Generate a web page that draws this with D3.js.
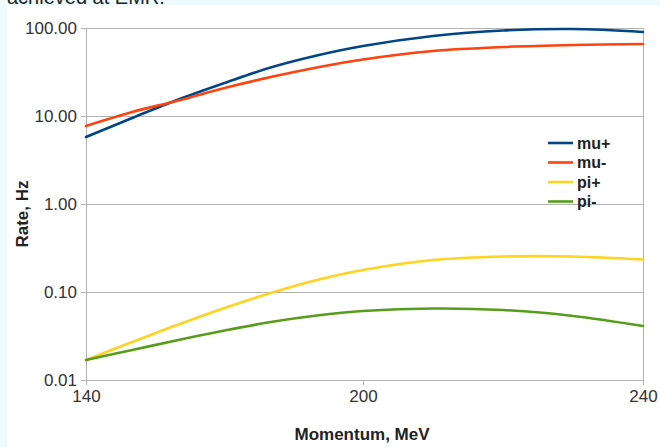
<!DOCTYPE html>
<html>
<head>
<meta charset="utf-8">
<script src="https://cdn.jsdelivr.net/npm/d3@7"></script>
<style>
  html, body { margin: 0; padding: 0; background: #eefbfe; }
  svg { display: block; font-family: "Liberation Sans", Arial, sans-serif; }
</style>
</head>
<body>
<svg id="chart" width="660" height="447"></svg>
<script>
// Momentum samples (MeV) and simulated rates (Hz) for each particle type
const momentum = [140, 150, 160, 170, 180, 190, 200, 210, 220, 230, 240];
const muPlus  = [5.77, 9.49, 15.4, 23.7, 35.6, 48.7, 62.4, 81.1, 93.7, 97.4, 90.1];
const muMinus = [7.70, 11.1, 15.0, 20.8, 27.7, 35.6, 43.9, 54.8, 60.8, 64.1, 65.8];
const piPlus  = [0.0169, 0.0270, 0.0427, 0.0658, 0.0975, 0.137, 0.178, 0.231, 0.253, 0.253, 0.234];
const piMinus = [0.0169, 0.0219, 0.0285, 0.0365, 0.0456, 0.0541, 0.0608, 0.0649, 0.0624, 0.0534, 0.0411];

const seriesNames = ["mu+", "mu-", "pi+", "pi-"];
const seriesValues = [muPlus, muMinus, piPlus, piMinus];
const seriesColors = ["#004586", "#ff420e", "#ffd320", "#579d1c"];

const xTickValues = [140, 200, 240];
const yTickValues = [0.01, 0.1, 1, 10, 100];
const yTickLabels = ["0.01", "0.10", "1.00", "10.00", "100.00"];

const svg = d3.select("#chart");

// White sheet behind the chart, with the caption line running off the top
svg.append("rect").attr("x", 7).attr("y", 5).attr("width", 653).attr("height", 442).attr("fill", "#ffffff");
svg.append("text").attr("x", 7).attr("y", 4).attr("font-size", 20).attr("fill", "#222")
  .text("achieved at EMR.");

const plotLeft = 86, plotRight = 643, plotTop = 28, plotBottom = 380;

// Category-like momentum axis: 140..200 and 200..240 take equal widths
const x = d3.scaleLinear().domain([140, 200, 240]).range([plotLeft, 363, plotRight]);
const y = d3.scaleLog().domain([0.01, 100]).range([plotBottom, plotTop]);

const gridColor = "#b3b3b3";

// Horizontal grid lines
svg.append("g").selectAll("line").data(yTickValues.slice(1)).join("line")
  .attr("x1", plotLeft).attr("x2", plotRight)
  .attr("y1", d => y(d)).attr("y2", d => y(d))
  .attr("stroke", gridColor).attr("stroke-width", 1).attr("shape-rendering", "crispEdges");

// Right frame edge
svg.append("line").attr("x1", plotRight).attr("x2", plotRight).attr("y1", plotTop).attr("y2", plotBottom)
  .attr("stroke", gridColor).attr("shape-rendering", "crispEdges");

// Y axis
const yAxis = d3.axisLeft(y).tickValues(yTickValues)
  .tickFormat((d, i) => yTickLabels[i]).tickSize(5).tickPadding(4);
const gy = svg.append("g").attr("transform", `translate(${plotLeft},0)`).call(yAxis);
gy.select(".domain").attr("stroke", gridColor).attr("shape-rendering", "crispEdges");
gy.selectAll(".tick line").attr("stroke", gridColor).attr("shape-rendering", "crispEdges");
gy.selectAll(".tick text").attr("font-size", 17).attr("fill", "#333")
  .attr("font-family", "Liberation Sans, Arial, sans-serif");

// X axis
const xAxis = d3.axisBottom(x).tickValues(xTickValues).tickFormat(d3.format("d"))
  .tickSize(5).tickPadding(5);
const gx = svg.append("g").attr("transform", `translate(0,${plotBottom})`).call(xAxis);
gx.select(".domain").attr("stroke", gridColor).attr("shape-rendering", "crispEdges");
gx.selectAll(".tick line").attr("stroke", gridColor).attr("shape-rendering", "crispEdges");
gx.selectAll(".tick text").attr("font-size", 17).attr("fill", "#333")
  .attr("font-family", "Liberation Sans, Arial, sans-serif");

// Axis titles
svg.append("text").attr("x", 362).attr("y", 440).attr("text-anchor", "middle")
  .attr("font-size", 17).attr("font-weight", "bold").attr("fill", "#222")
  .text("Momentum, MeV");
svg.append("text").attr("transform", "translate(28,214) rotate(-90)").attr("text-anchor", "middle")
  .attr("font-size", 17).attr("font-weight", "bold").attr("fill", "#222")
  .text("Rate, Hz");

// Series curves
const line = d3.line().x((d, i) => x(momentum[i])).y(d => y(d)).curve(d3.curveCatmullRom.alpha(0.5));
svg.append("g").selectAll("path").data(seriesValues).join("path")
  .attr("d", d => line(d))
  .attr("fill", "none")
  .attr("stroke", (d, i) => seriesColors[i])
  .attr("stroke-width", 2.6)
  .attr("stroke-linecap", "round");

// Legend
const legend = svg.append("g").attr("transform", "translate(548,143)");
const rows = legend.selectAll("g").data(seriesNames).join("g")
  .attr("transform", (d, i) => `translate(0,${i * 19.5})`);
rows.append("line").attr("x1", 0).attr("x2", 25).attr("y1", 0).attr("y2", 0)
  .attr("stroke", (d, i) => seriesColors[i]).attr("stroke-width", 2.6);
rows.append("text").attr("x", 29).attr("y", 5.5).attr("font-size", 16).attr("font-weight", "bold")
  .attr("fill", "#222").text(d => d);
</script>
</body>
</html>
